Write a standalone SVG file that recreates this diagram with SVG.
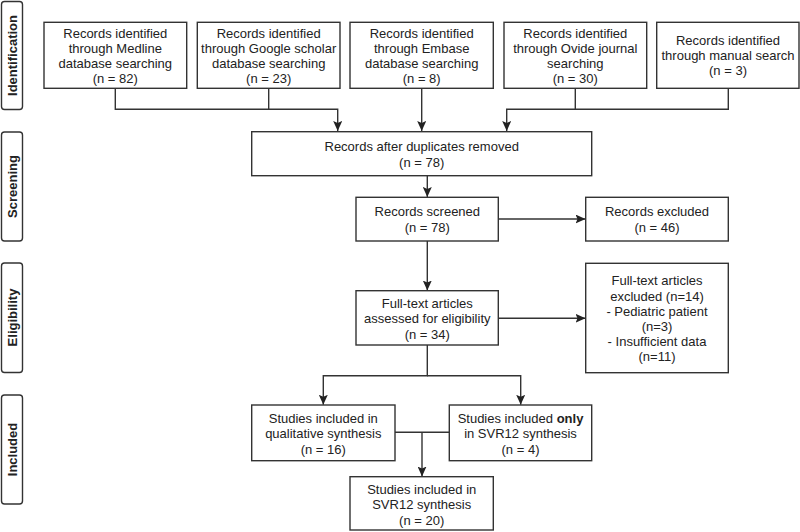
<svg xmlns="http://www.w3.org/2000/svg" width="800" height="532" viewBox="0 0 800 532">
<style>
.box{fill:#fff;stroke:#333;stroke-width:1.4}
.side{fill:#fff;stroke:#333;stroke-width:1.4}
.t{font-family:"Liberation Sans",Arial,Helvetica,sans-serif;font-size:13px;fill:#222;text-anchor:middle}
.s{font-family:"Liberation Sans",Arial,Helvetica,sans-serif;font-size:13px;font-weight:bold;fill:#222;text-anchor:middle}
.c{fill:none;stroke:#333;stroke-width:1.4}
</style>
<defs>
<marker id="ah" markerUnits="userSpaceOnUse" markerWidth="11" markerHeight="9" refX="10" refY="4.5" orient="auto">
<path d="M0,0 L10,4.5 L0,9 L2,4.5 z" fill="#222"/>
</marker>
</defs>
<rect width="800" height="532" fill="#fff"/>

<g id="side-identification">
<rect class="side" x="1.5" y="1.5" width="21" height="108" rx="3"/>
<text class="s" transform="translate(16.5,55.5) rotate(-90)">Identification</text>
</g>
<g id="side-screening">
<rect class="side" x="1.5" y="132" width="21" height="109" rx="3"/>
<text class="s" transform="translate(16.5,186.5) rotate(-90)">Screening</text>
</g>
<g id="side-eligibility">
<rect class="side" x="1.5" y="263" width="21" height="109.5" rx="3"/>
<text class="s" transform="translate(16.5,317.5) rotate(-90)">Eligibility</text>
</g>
<g id="side-included">
<rect class="side" x="1.5" y="395" width="21" height="109" rx="3"/>
<text class="s" transform="translate(16.5,449.5) rotate(-90)">Included</text>
</g>

<g id="connectors">
<path class="c" d="M115.3,88.3 V109.3 H337.7 V131" marker-end="url(#ah)"/>
<path class="c" d="M268.7,88.3 V109.3"/>
<path class="c" d="M421.7,88.3 V131" marker-end="url(#ah)"/>
<path class="c" d="M728.3,88.3 V109.3 H506.7 V131" marker-end="url(#ah)"/>
<path class="c" d="M575.3,88.3 V109.3"/>
<path class="c" d="M427.3,175.7 V197" marker-end="url(#ah)"/>
<path class="c" d="M498.3,219 H585.5" marker-end="url(#ah)"/>
<path class="c" d="M427.3,241 V290.5" marker-end="url(#ah)"/>
<path class="c" d="M498.3,318.3 H585.5" marker-end="url(#ah)"/>
<path class="c" d="M427.3,345 V375.7 H323.3 V404.8" marker-end="url(#ah)"/>
<path class="c" d="M427.3,375.7 H520.7 V404.8" marker-end="url(#ah)"/>
<path class="c" d="M395,432.3 H449.3"/>
<path class="c" d="M422,432.3 V476.5" marker-end="url(#ah)"/>
</g>

<g id="medline">
<rect class="box" x="44" y="22.3" width="142.7" height="66"/>
<text class="t" x="115.3" y="38">Records identified</text>
<text class="t" x="115.3" y="53">through Medline</text>
<text class="t" x="115.3" y="68">database searching</text>
<text class="t" x="115.3" y="83">(n = 82)</text>
</g>
<g id="google">
<rect class="box" x="197.3" y="22.3" width="142.7" height="66"/>
<text class="t" x="268.7" y="38">Records identified</text>
<text class="t" x="268.7" y="53">through Google scholar</text>
<text class="t" x="268.7" y="68">database searching</text>
<text class="t" x="268.7" y="83">(n = 23)</text>
</g>
<g id="embase">
<rect class="box" x="350" y="22.3" width="143.3" height="66"/>
<text class="t" x="421.7" y="38">Records identified</text>
<text class="t" x="421.7" y="53">through Embase</text>
<text class="t" x="421.7" y="68">database searching</text>
<text class="t" x="421.7" y="83">(n = 8)</text>
</g>
<g id="ovide">
<rect class="box" x="504" y="22.3" width="142.7" height="66"/>
<text class="t" x="575.3" y="38">Records identified</text>
<text class="t" x="575.3" y="53">through Ovide journal</text>
<text class="t" x="575.3" y="68">searching</text>
<text class="t" x="575.3" y="83">(n = 30)</text>
</g>
<g id="manual">
<rect class="box" x="656.7" y="22.3" width="142.3" height="66"/>
<text class="t" x="728" y="45.3">Records identified</text>
<text class="t" x="728" y="60.3">through manual search</text>
<text class="t" x="728" y="75.3">(n = 3)</text>
</g>

<g id="duplicates">
<rect class="box" x="251.7" y="131.7" width="340" height="44"/>
<text class="t" x="421.7" y="151.3">Records after duplicates removed</text>
<text class="t" x="421.7" y="166.5">(n = 78)</text>
</g>
<g id="screened">
<rect class="box" x="356" y="197.3" width="142.3" height="43.7"/>
<text class="t" x="427.3" y="216.3">Records screened</text>
<text class="t" x="427.3" y="232">(n = 78)</text>
</g>
<g id="excluded">
<rect class="box" x="585.7" y="197.3" width="142.6" height="43.7"/>
<text class="t" x="657" y="216.3">Records excluded</text>
<text class="t" x="657" y="232">(n = 46)</text>
</g>
<g id="assessed">
<rect class="box" x="356" y="290.7" width="142.3" height="54.3"/>
<text class="t" x="427.3" y="308">Full-text articles</text>
<text class="t" x="427.3" y="323.3">assessed for eligibility</text>
<text class="t" x="427.3" y="338.6">(n = 34)</text>
</g>
<g id="fulltext-excluded">
<rect class="box" x="585.7" y="263.3" width="142.6" height="109.4"/>
<text class="t" x="657" y="285.3">Full-text articles</text>
<text class="t" x="657" y="300.5">excluded (n=14)</text>
<text class="t" x="657" y="315.7">- Pediatric patient</text>
<text class="t" x="657" y="330.9">(n=3)</text>
<text class="t" x="657" y="346.1">- Insufficient data</text>
<text class="t" x="657" y="361.3">(n=11)</text>
</g>
<g id="qualitative">
<rect class="box" x="251.7" y="405" width="143.3" height="55.7"/>
<text class="t" x="323.3" y="423">Studies included in</text>
<text class="t" x="323.3" y="438.3">qualitative synthesis</text>
<text class="t" x="323.3" y="453.6">(n = 16)</text>
</g>
<g id="svr12-only">
<rect class="box" x="449.3" y="405" width="142.4" height="55.7"/>
<text class="t" x="520.5" y="423">Studies included <tspan font-weight="bold">only</tspan></text>
<text class="t" x="520.5" y="438.3">in SVR12 synthesis</text>
<text class="t" x="520.5" y="453.6">(n = 4)</text>
</g>
<g id="svr12">
<rect class="box" x="350" y="476.7" width="143.3" height="53.3"/>
<text class="t" x="421.7" y="494">Studies included in</text>
<text class="t" x="421.7" y="509.3">SVR12 synthesis</text>
<text class="t" x="421.7" y="524.6">(n = 20)</text>
</g>
</svg>
